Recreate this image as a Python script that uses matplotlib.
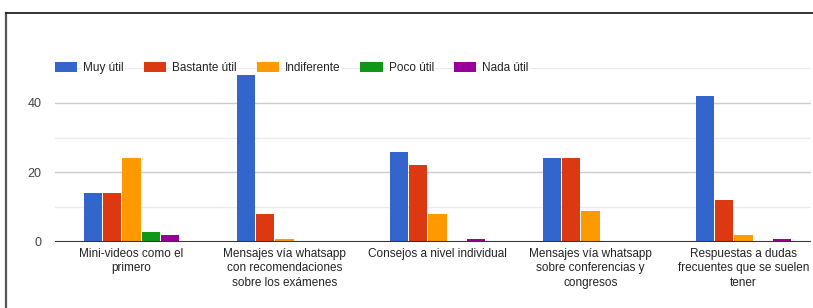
import matplotlib
matplotlib.use("Agg")
import matplotlib.pyplot as plt
import numpy as np
from matplotlib.lines import Line2D

categories = [
    "Mini-videos como el\nprimero",
    "Mensajes vía whatsapp\ncon recomendaciones\nsobre los exámenes",
    "Consejos a nivel individual",
    "Mensajes vía whatsapp\nsobre conferencias y\ncongresos",
    "Respuestas a dudas\nfrecuentes que se suelen\ntener",
]
series = ["Muy útil", "Bastante útil", "Indiferente", "Poco útil", "Nada útil"]
muy_util = [14, 48, 26, 24, 42]
bastante_util = [14, 8, 22, 24, 12]
indiferente = [24, 1, 8, 9, 2]
poco_util = [3, 0, 0, 0, 0]
nada_util = [2, 0, 1, 0, 1]
values = [muy_util, bastante_util, indiferente, poco_util, nada_util]
colors = ["#3366cc", "#dc3912", "#ff9900", "#109618", "#990099"]

plt.rcParams["font.family"] = ["Liberation Sans", "DejaVu Sans"]

W, H = 813, 308
fig = plt.figure(figsize=(W / 100, H / 100), dpi=100)
right = W - 2
ax = fig.add_axes([55 / W, (H - 242) / H, (right - 55) / W, (242 - 68) / H])

x = np.arange(len(categories))
step, width = 0.126, 0.118
for i, (name, vals, col) in enumerate(zip(series, values, colors)):
    ax.bar(x + (i - 2) * step, vals, width, color=col, label=name, zorder=3)

ax.set_xlim(-0.5, (right - 55) / 153 - 0.5)
ax.set_ylim(0, 50)
ax.set_yticks([0, 20, 40])
ax.set_yticks([10, 30, 50], minor=True)
ax.grid(axis="y", which="major", color="#cccccc", lw=1, zorder=0)
ax.grid(axis="y", which="minor", color="#ebebeb", lw=1, zorder=0)
ax.axhline(0, color="#333333", lw=1.5, zorder=4)
for s in ax.spines.values():
    s.set_visible(False)
ax.tick_params(axis="y", which="both", length=0, pad=9.5, labelsize=9, labelcolor="#444444")
ax.set_xticks(x, categories)
ax.tick_params(axis="x", length=0, pad=4, labelsize=8.5, labelcolor="#222222")
for t in ax.get_xticklabels():
    t.set_linespacing(1.3)

leg = ax.legend(loc="center left", bbox_to_anchor=(0, 1.0), ncol=5, frameon=False,
                fontsize=8.5, handlelength=1.9, handleheight=0.85, handletextpad=0.5,
                columnspacing=1.68, borderpad=0, borderaxespad=0)
for t in leg.get_texts():
    t.set_color("#222222")
    t.set_bbox(dict(facecolor="white", edgecolor="none", pad=1))

# screenshot frame
fig.add_artist(Line2D([6 / W, 6 / W], [0, (H - 12.5) / H], color="#555555", lw=1.6))
fig.add_artist(Line2D([6 / W, 1], [(H - 12.5) / H, (H - 12.5) / H], color="#222222", lw=1.3))

fig.savefig("out.png", dpi=100)
